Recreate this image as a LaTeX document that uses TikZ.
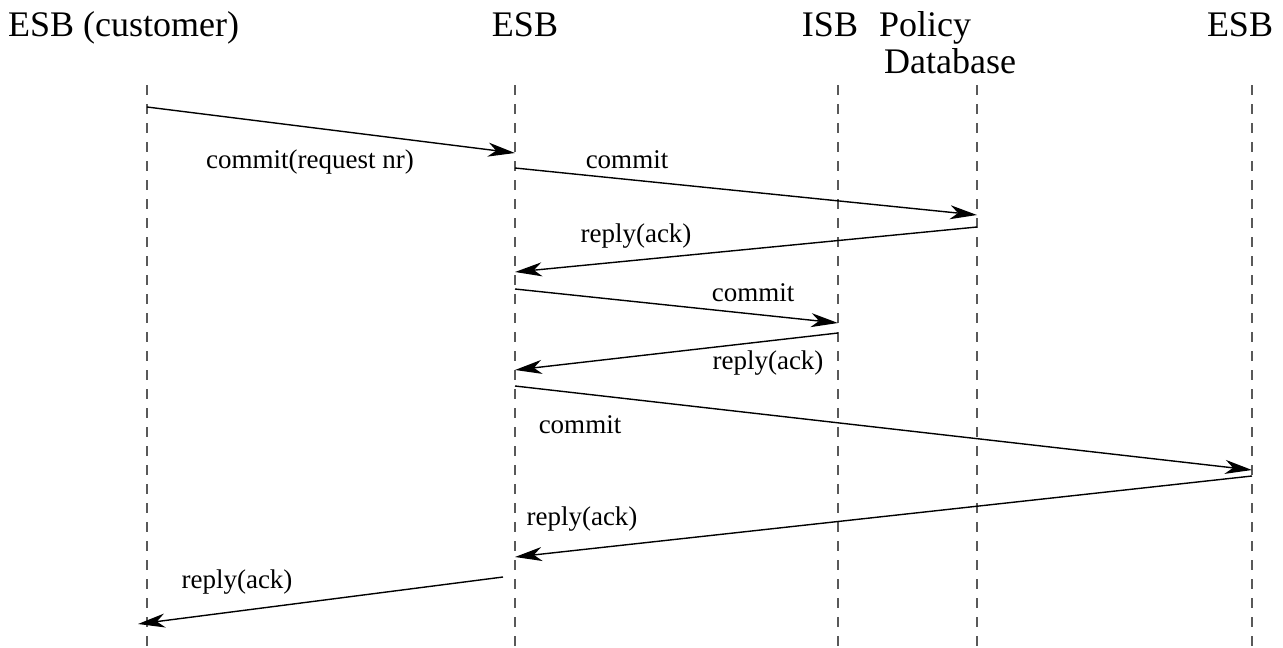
\documentclass[tikz,border=0pt]{standalone}
\usepackage{fontspec}
\setmainfont{Liberation Serif}
\usetikzlibrary{arrows.meta}
\begin{document}
\begin{tikzpicture}[x=1pt,y=-1pt]

      \useasboundingbox (0,0) rectangle (1283,648);

      \begin{scope}[every node/.style={font=\fontsize{36}{39}\selectfont,inner sep=0pt,anchor=base}]
        \node[anchor=base west] (cust) at (8,36)  {ESB (customer)};
        \node (esb)  at (525,36)  {ESB};
        \node (isb)  at (830,36)  {ISB};
        \node[anchor=base west] (pol) at (879,36)  {Policy};
        \node[anchor=base west] (db)  at (884,73)  {Database};
        \node (ext)  at (1240,36) {ESB};
      \end{scope}

      \foreach \n/\x in {c/147,e/515,i/838,p/977,x/1252} {
        \coordinate (\n top) at (\x,85);
        \coordinate (\n bot) at (\x,648);
        \draw[black!65,line width=1.1pt,dash pattern=on 10pt off 9pt] (\n top) -- (\n bot);
      }

      \coordinate (1)  at (147,107);
      \coordinate (2)  at (515,153);
      \coordinate (3)  at (515,168);
      \coordinate (4)  at (977,215);
      \coordinate (5)  at (977,227);
      \coordinate (6)  at (515,272);
      \coordinate (7)  at (515,289);
      \coordinate (8)  at (838,323);
      \coordinate (9)  at (838,333);
      \coordinate (10) at (515,370);
      \coordinate (11) at (515,386);
      \coordinate (12) at (1252,470);
      \coordinate (13) at (1252,476);
      \coordinate (14) at (515,557);
      \coordinate (15) at (503,577);
      \coordinate (16) at (138,624);

      \begin{scope}[every edge/.style={draw,line width=1.4pt,-{Stealth[length=27pt,width=14pt,inset=8pt]}}]
        \path (1)  edge (2);
        \path (3)  edge (4);
        \path (5)  edge (6);
        \path (7)  edge (8);
        \path (9)  edge (10);
        \path (11) edge (12);
        \path (13) edge (14);
        \path (15) edge (16);
      \end{scope}

      \begin{scope}[every node/.style={font=\fontsize{27}{30}\selectfont,inner sep=0pt}]
        \node (l1) at (310,162) {commit(request nr)};
        \node (l2) at (627,160) {commit};
        \node (l3) at (636,236) {reply(ack)};
        \node (l4) at (753,293) {commit};
        \node (l5) at (768,363) {reply(ack)};
        \node (l6) at (580,425) {commit};
        \node (l7) at (582,519) {reply(ack)};
        \node (l8) at (237,582) {reply(ack)};
      \end{scope}

    \end{tikzpicture}
\end{document}
